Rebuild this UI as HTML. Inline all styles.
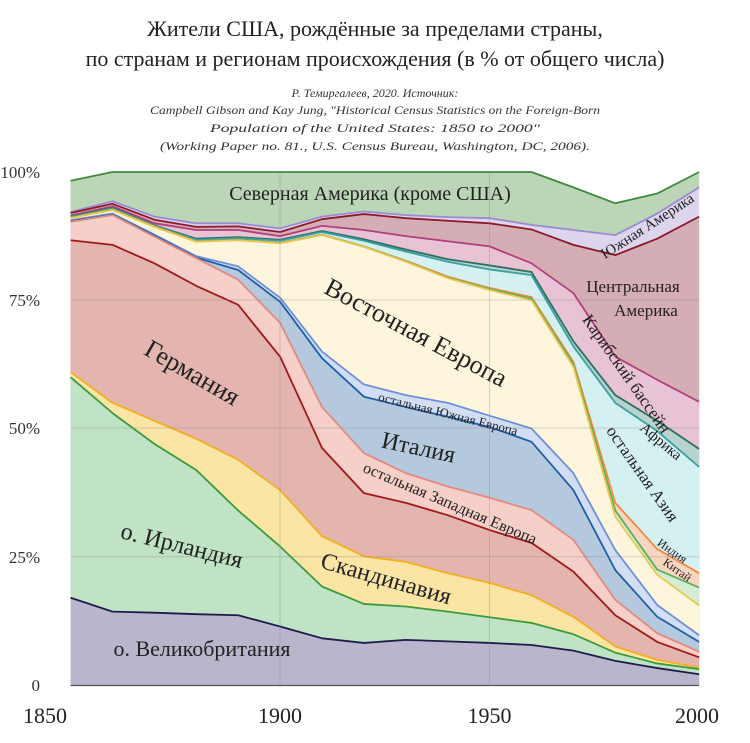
<!DOCTYPE html>
<html><head><meta charset="utf-8">
<style>
html,body{margin:0;padding:0;background:#fff;}
svg{display:block;font-family:"Liberation Serif","Noto Serif CJK SC",serif;}
.l{fill:none;stroke-width:1.8;stroke-linejoin:round;vector-effect:non-scaling-stroke;}
</style></head>
<body>
<svg width="750" height="743" viewBox="0 0 750 743" xmlns="http://www.w3.org/2000/svg">
<rect width="750" height="743" fill="#fff"/>
<g transform="translate(70.6,685) scale(41.9,-5.13)">
<polygon fill="#bbd6b6" points="0,98.3 1,100 2,100 3,100 4,100 5,100 6,100 7,100 8,100 9,100 10,100 11,100 12,97 13,93.9 14,95.8 15,100 15,0 0,0"/>
<polygon fill="#ddd5ee" points="0,92.2 1,94.3 2,91.3 3,90 4,90 5,89 6,91.3 7,92.3 8,91.6 9,91.2 10,91 11,89.7 12,88.7 13,87.7 14,91.9 15,97 15,0 0,0"/>
<polygon fill="#d5aeb5" points="0,92 1,93.8 2,90.7 3,89.3 4,89.4 5,88.3 6,90.8 7,91.8 8,91 9,90.5 10,90 11,88.8 12,85.8 13,83.8 14,87 15,91.3 15,0 0,0"/>
<polygon fill="#e7c3d5" points="0,91.5 1,93.3 2,90 3,88.7 4,88.7 5,87.5 6,89.5 7,88.7 8,87.5 9,86.5 10,85.5 11,82.2 12,76.4 13,64 14,59.5 15,55.2 15,0 0,0"/>
<polygon fill="#b7d3cf" points="0,91.3 1,93 2,89.6 3,87 4,87.3 5,86.8 6,88.5 7,86.9 8,84.9 9,83 10,81.8 11,80.5 12,67 13,56.5 14,51.5 15,46 15,0 0,0"/>
<polygon fill="#d5f0f0" points="0,91.2 1,92.9 2,89.5 3,86.8 4,87.1 5,86.6 6,88.3 7,86.6 8,84.5 9,82.5 10,81 11,79.9 12,66 13,55 14,49.5 15,42.5 15,0 0,0"/>
<polygon fill="#fad5bf" points="0,91.1 1,92.7 2,89.4 3,86.5 4,86.8 5,86.2 6,87.8 7,85.5 8,82.7 9,79.6 10,77.4 11,75.6 12,63 13,35.5 14,26.5 15,21.8 15,0 0,0"/>
<polygon fill="#d3ecd3" points="0,91.05 1,92.65 2,89.35 3,86.45 4,86.75 5,86.15 6,87.75 7,85.45 8,82.6 9,79.4 10,77.2 11,75.3 12,62.5 13,34 14,22.5 15,19 15,0 0,0"/>
<polygon fill="#fdf6dc" points="0,91 1,92.6 2,89.3 3,86.4 4,86.7 5,86.1 6,87.7 7,85.4 8,82.5 9,79.3 10,77 11,75 12,62 13,32.8 14,21.5 15,15.5 15,0 0,0"/>
<polygon fill="#d2def4" points="0,90.6 1,91.9 2,87.8 3,83.6 4,81.6 5,75.5 6,65 7,58.6 8,56.5 9,55 10,52.5 11,50 12,41.3 13,26.3 14,15.6 15,9.7 15,0 0,0"/>
<polygon fill="#b5c9de" points="0,90.4 1,91.7 2,87.6 3,83.3 4,80.9 5,74.7 6,63.7 7,56.2 8,54.2 9,52.3 10,50.3 11,47.4 12,38 13,22.4 14,13.3 15,8.4 15,0 0,0"/>
<polygon fill="#f5cfc8" points="0,90.3 1,91.6 2,87.4 3,83.2 4,79 5,70.6 6,54.2 7,45.2 8,41.3 9,38.7 10,36.5 11,34.1 12,28.3 13,16.6 14,10.1 15,6.5 15,0 0,0"/>
<polygon fill="#e3b5ae" points="0,86.7 1,85.8 2,82.2 3,77.8 4,74.1 5,64 6,46.2 7,37.4 8,35.5 9,33.1 10,30.2 11,27.7 12,22.1 13,13.6 14,8.4 15,5.4 15,0 0,0"/>
<polygon fill="#fbe5a4" points="0,61 1,55 2,51.5 3,48 4,43.9 5,38 6,29 7,25.1 8,24 9,21.8 10,19.9 11,17.5 12,13.3 13,7.5 14,4.9 15,3.4 15,0 0,0"/>
<polygon fill="#bfe3c4" points="0,60 1,53 2,47 3,41.9 4,34 5,27 6,19.2 7,15.8 8,15.3 9,14.3 10,13.2 11,12.1 12,9.9 13,6.3 14,4.2 15,3.1 15,0 0,0"/>
<polygon fill="#b9b5cc" points="0,17 1,14.3 2,14.1 3,13.8 4,13.6 5,11.4 6,9.1 7,8.2 8,8.8 9,8.5 10,8.2 11,7.8 12,6.7 13,4.7 14,3.3 15,2.1 15,0 0,0"/>

<polyline class="l" stroke="#3f8a3f" points="0,98.3 1,100 2,100 3,100 4,100 5,100 6,100 7,100 8,100 9,100 10,100 11,100 12,97 13,93.9 14,95.8 15,100"/>
<polyline class="l" stroke="#9a8ad0" points="0,92.2 1,94.3 2,91.3 3,90 4,90 5,89 6,91.3 7,92.3 8,91.6 9,91.2 10,91 11,89.7 12,88.7 13,87.7 14,91.9 15,97"/>
<polyline class="l" stroke="#8b1a2a" points="0,92 1,93.8 2,90.7 3,89.3 4,89.4 5,88.3 6,90.8 7,91.8 8,91 9,90.5 10,90 11,88.8 12,85.8 13,83.8 14,87 15,91.3"/>
<polyline class="l" stroke="#b0407a" points="0,91.5 1,93.3 2,90 3,88.7 4,88.7 5,87.5 6,89.5 7,88.7 8,87.5 9,86.5 10,85.5 11,82.2 12,76.4 13,64 14,59.5 15,55.2"/>
<polyline class="l" stroke="#2e6e60" points="0,91.3 1,93 2,89.6 3,87 4,87.3 5,86.8 6,88.5 7,86.9 8,84.9 9,83 10,81.8 11,80.5 12,67 13,56.5 14,51.5 15,46"/>
<polyline class="l" stroke="#3aa0a0" points="0,91.2 1,92.9 2,89.5 3,86.8 4,87.1 5,86.6 6,88.3 7,86.6 8,84.5 9,82.5 10,81 11,79.9 12,66 13,55 14,49.5 15,42.5"/>
<polyline class="l" stroke="#f08a40" points="0,91.1 1,92.7 2,89.4 3,86.5 4,86.8 5,86.2 6,87.8 7,85.5 8,82.7 9,79.6 10,77.4 11,75.6 12,63 13,35.5 14,26.5 15,21.8"/>
<polyline class="l" stroke="#5cb05c" points="0,91.05 1,92.65 2,89.35 3,86.45 4,86.75 5,86.15 6,87.75 7,85.45 8,82.6 9,79.4 10,77.2 11,75.3 12,62.5 13,34 14,22.5 15,19"/>
<polyline class="l" stroke="#e8c850" points="0,91 1,92.6 2,89.3 3,86.4 4,86.7 5,86.1 6,87.7 7,85.4 8,82.5 9,79.3 10,77 11,75 12,62 13,32.8 14,21.5 15,15.5"/>
<polyline class="l" stroke="#6f90d6" points="0,90.6 1,91.9 2,87.8 3,83.6 4,81.6 5,75.5 6,65 7,58.6 8,56.5 9,55 10,52.5 11,50 12,41.3 13,26.3 14,15.6 15,9.7"/>
<polyline class="l" stroke="#1f5fa8" points="0,90.4 1,91.7 2,87.6 3,83.3 4,80.9 5,74.7 6,63.7 7,56.2 8,54.2 9,52.3 10,50.3 11,47.4 12,38 13,22.4 14,13.3 15,8.4"/>
<polyline class="l" stroke="#e28a80" points="0,90.3 1,91.6 2,87.4 3,83.2 4,79 5,70.6 6,54.2 7,45.2 8,41.3 9,38.7 10,36.5 11,34.1 12,28.3 13,16.6 14,10.1 15,6.5"/>
<polyline class="l" stroke="#a01818" points="0,86.7 1,85.8 2,82.2 3,77.8 4,74.1 5,64 6,46.2 7,37.4 8,35.5 9,33.1 10,30.2 11,27.7 12,22.1 13,13.6 14,8.4 15,5.4"/>
<polyline class="l" stroke="#f0b020" points="0,61 1,55 2,51.5 3,48 4,43.9 5,38 6,29 7,25.1 8,24 9,21.8 10,19.9 11,17.5 12,13.3 13,7.5 14,4.9 15,3.4"/>
<polyline class="l" stroke="#3d9b3d" points="0,60 1,53 2,47 3,41.9 4,34 5,27 6,19.2 7,15.8 8,15.3 9,14.3 10,13.2 11,12.1 12,9.9 13,6.3 14,4.2 15,3.1"/>
<polyline class="l" stroke="#1e1c4e" points="0,17 1,14.3 2,14.1 3,13.8 4,13.6 5,11.4 6,9.1 7,8.2 8,8.8 9,8.5 10,8.2 11,7.8 12,6.7 13,4.7 14,3.3 15,2.1"/>
</g>
<g stroke="#888" stroke-opacity="0.35" stroke-width="1">
<line x1="70.6" x2="699" y1="300" y2="300"/>
<line x1="70.6" x2="699" y1="428" y2="428"/>
<line x1="70.6" x2="699" y1="556.7" y2="556.7"/>
<line x1="280" x2="280" y1="172" y2="685"/>
<line x1="489.5" x2="489.5" y1="172" y2="685"/>
</g>
<line x1="70.6" x2="699" y1="685.5" y2="685.5" stroke="#555" stroke-width="1.2"/>
<g font-size="22" text-anchor="middle" fill="#222">
<text x="375" y="36">Жители США, рождённые за пределами страны,</text>
<text x="375" y="66">по странам и регионам происхождения (в % от общего числа)</text>
</g>
<g font-size="12" font-style="italic" text-anchor="middle" fill="#333">
<text x="375" y="97">Р. Темиргалеев, 2020. Источник:</text>
<text x="375" y="114" textLength="450" lengthAdjust="spacingAndGlyphs">Campbell Gibson and Kay Jung, "Historical Census Statistics on the Foreign-Born</text>
<text x="375" y="132" textLength="330" lengthAdjust="spacingAndGlyphs">Population of the United States: 1850 to 2000"</text>
<text x="375" y="150" textLength="430" lengthAdjust="spacingAndGlyphs">(Working Paper no. 81., U.S. Census Bureau, Washington, DC, 2006).</text>
</g>
<g font-size="17" text-anchor="end" fill="#333">
<text x="40" y="178">100%</text>
<text x="40" y="306">75%</text>
<text x="40" y="434">50%</text>
<text x="40" y="563">25%</text>
<text x="40" y="691">0</text>
</g>
<g font-size="22" text-anchor="middle" fill="#222">
<text x="45" y="723">1850</text>
<text x="280" y="723">1900</text>
<text x="489.5" y="723">1950</text>
<text x="697" y="723">2000</text>
</g>
<g fill="#222" text-anchor="middle">
<text x="370" y="200" font-size="20">Северная Америка (кроме США)</text>
<text font-size="15" transform="translate(650,230) rotate(-33)">Южная Америка</text>
<text x="633" y="292" font-size="17">Центральная</text>
<text x="646" y="316" font-size="17">Америка</text>
<text font-size="26" transform="translate(412,340) rotate(28)">Восточная Европа</text>
<text font-size="26" transform="translate(188,380) rotate(30)">Германия</text>
<text font-size="13" transform="translate(447,418) rotate(14)">остальная Южная Европа</text>
<text font-size="24" transform="translate(417,455) rotate(12)">Италия</text>
<text font-size="16" transform="translate(448,508) rotate(23)">остальная Западная Европа</text>
<text font-size="17" transform="translate(622,377) rotate(55)">Карибский бассейн</text>
<text font-size="15" transform="translate(658,445) rotate(40)">Африка</text>
<text font-size="17" transform="translate(638,477) rotate(55)">остальная Азия</text>
<text font-size="12" transform="translate(670,554) rotate(35)">Индия</text>
<text font-size="12" transform="translate(675,573) rotate(35)">Китай</text>
<text font-size="24" transform="translate(180,553) rotate(14)">о. Ирландия</text>
<text font-size="24" transform="translate(384,586) rotate(16)">Скандинавия</text>
<text x="202" y="656" font-size="22">о. Великобритания</text>
</g>
</svg>
</body></html>
